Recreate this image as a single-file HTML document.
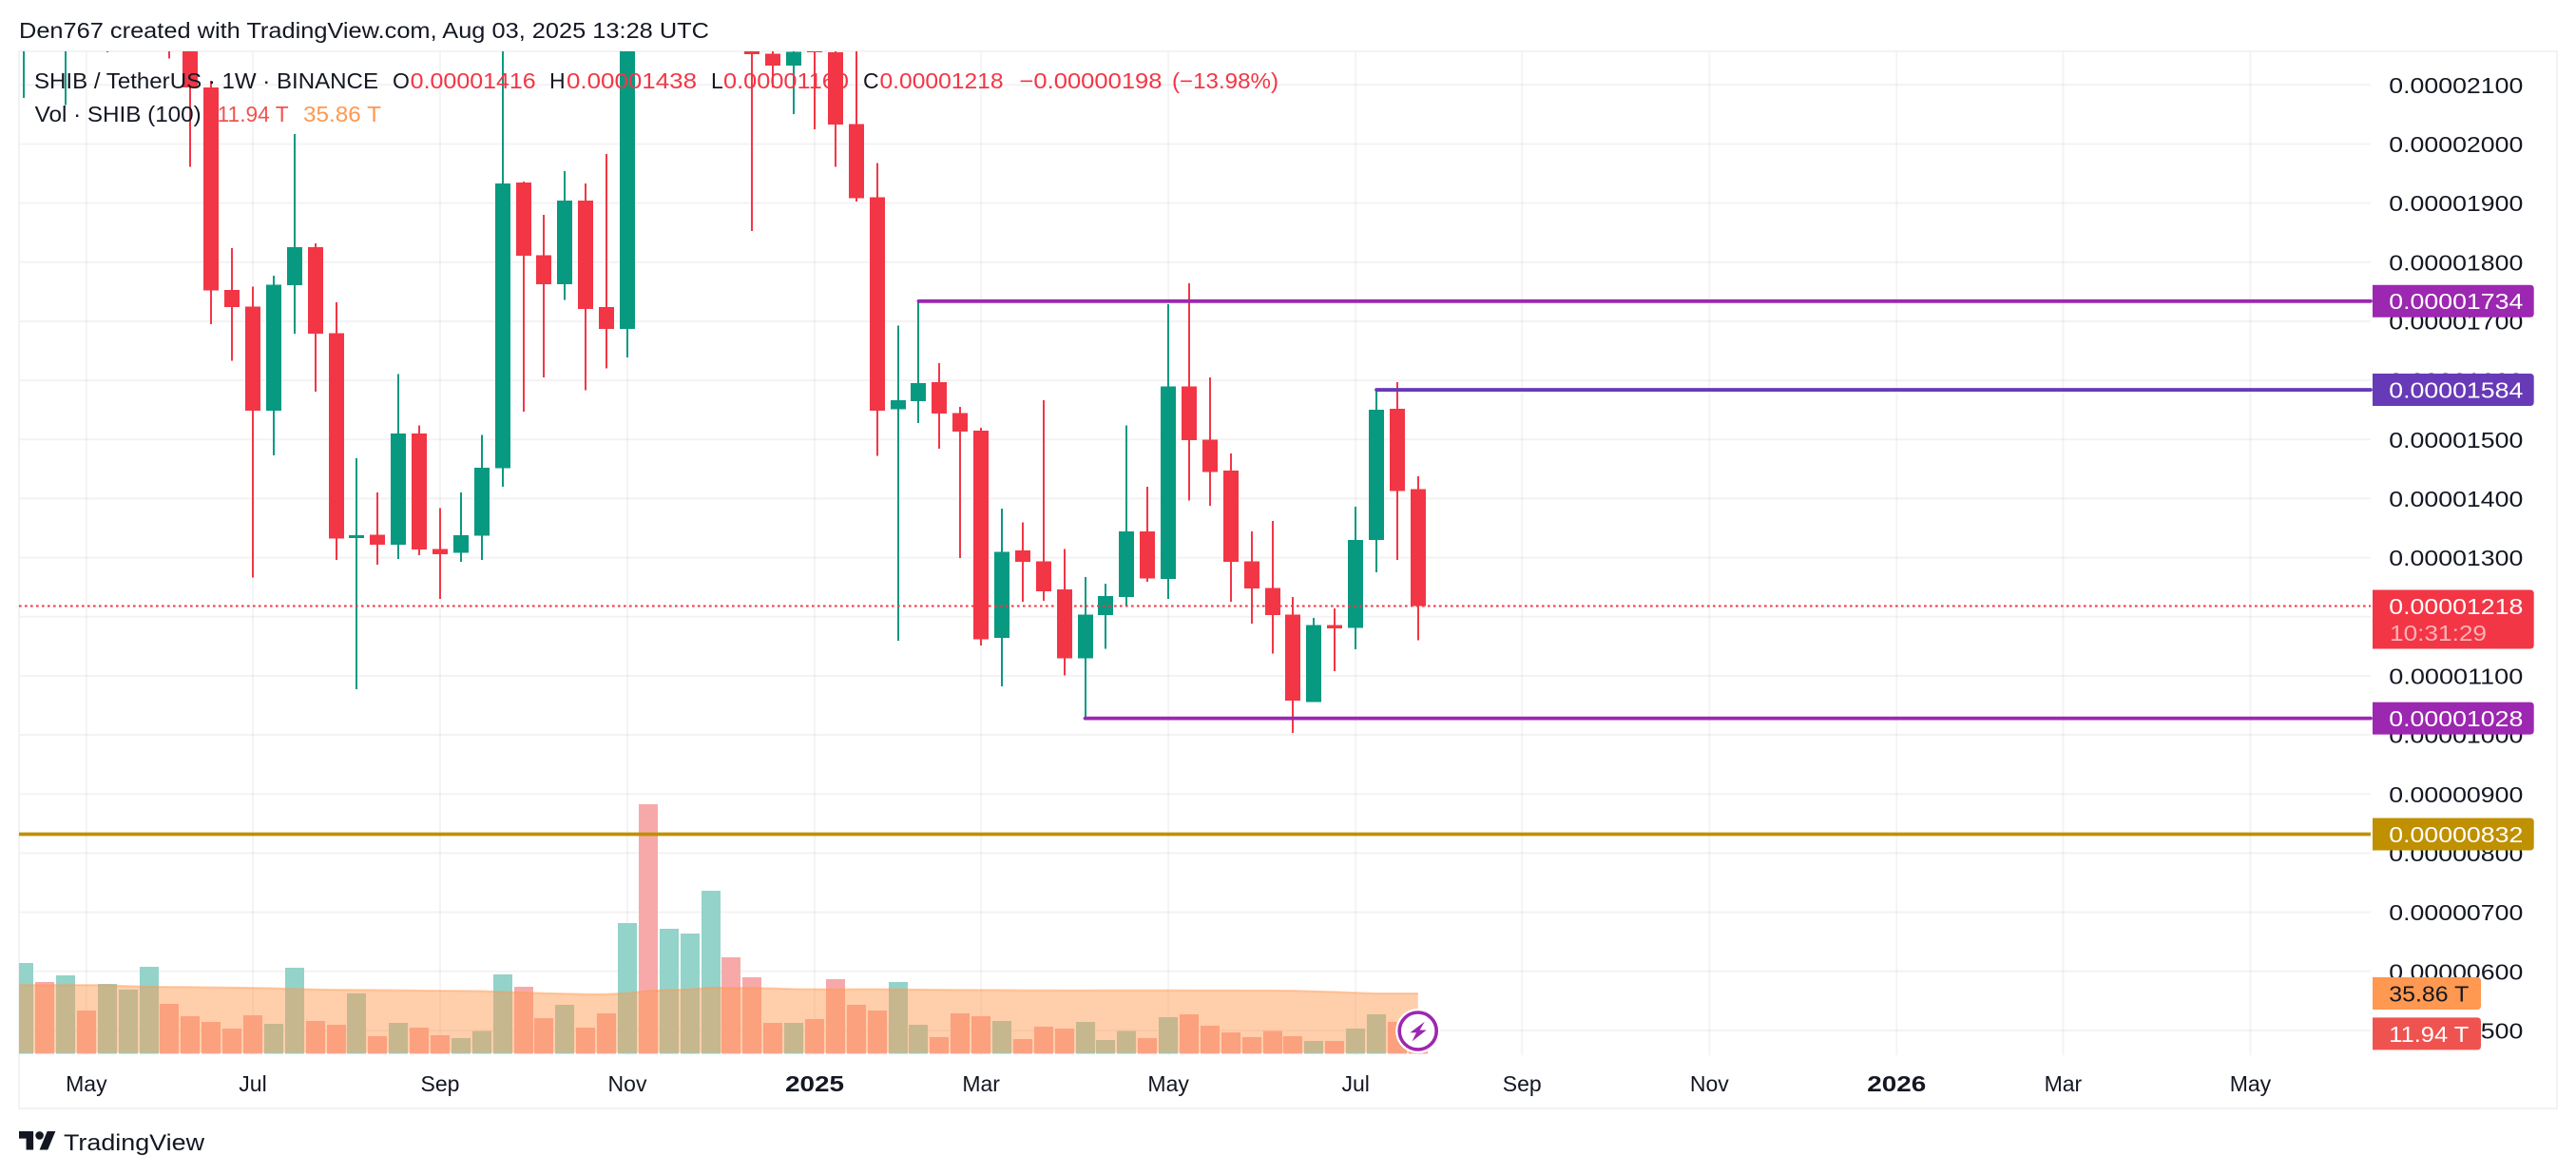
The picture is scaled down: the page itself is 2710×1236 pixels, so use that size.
<!DOCTYPE html>
<html lang="en">
<head>
<meta charset="utf-8">
<title>SHIB / TetherUS 1W chart</title>
<style>
html,body{margin:0;padding:0;background:#fff;width:2710px;height:1236px;overflow:hidden}
svg{display:block;font-family:"Liberation Sans",sans-serif}
</style>
</head>
<body>
<svg id="chart" xmlns="http://www.w3.org/2000/svg" width="2710" height="1236" viewBox="0 0 2710 1236">
  <defs>
    <clipPath id="pane-clip"><rect x="20" y="54" width="2474" height="1112"/></clipPath>
  </defs>
  <rect width="2710" height="1236" fill="#ffffff"/>
  <text x="20" y="40" font-size="23" fill="#131722" textLength="726" lengthAdjust="spacingAndGlyphs">Den767 created with TradingView.com, Aug 03, 2025 13:28 UTC</text>

  <g id="grid-layer"></g>
  <rect x="20" y="54" width="2670" height="1112" fill="none" stroke="#f2f2f3" stroke-width="2"/>
  <g id="volume-layer" clip-path="url(#pane-clip)"></g>
  <g id="candle-layer" clip-path="url(#pane-clip)"></g>
  <g id="price-line-layer"></g>
  <g id="level-layer"></g>
  <g id="axis-layer"></g>
  <g id="tag-layer"></g>

  <g font-size="23">
    <text x="36" y="93" fill="#131722" textLength="362" lengthAdjust="spacingAndGlyphs">SHIB / TetherUS · 1W · BINANCE</text>
    <text x="413" y="93" fill="#131722">O</text>
    <text x="431.7" y="93" fill="#f23645" textLength="132" lengthAdjust="spacingAndGlyphs">0.00001416</text>
    <text x="578" y="93" fill="#131722">H</text>
    <text x="596" y="93" fill="#f23645" textLength="137" lengthAdjust="spacingAndGlyphs">0.00001438</text>
    <text x="748" y="93" fill="#131722">L</text>
    <text x="761" y="93" fill="#f23645" textLength="132" lengthAdjust="spacingAndGlyphs">0.00001160</text>
    <text x="908" y="93" fill="#131722">C</text>
    <text x="925.5" y="93" fill="#f23645" textLength="130" lengthAdjust="spacingAndGlyphs">0.00001218</text>
    <text x="1072.5" y="93" fill="#f23645" textLength="150" lengthAdjust="spacingAndGlyphs">−0.00000198</text>
    <text x="1233" y="93" fill="#f23645" textLength="112" lengthAdjust="spacingAndGlyphs">(−13.98%)</text>
    <text x="36.7" y="128" fill="#131722" textLength="175" lengthAdjust="spacingAndGlyphs">Vol · SHIB (100)</text>
    <text x="228.6" y="128" fill="#ef5350" textLength="75" lengthAdjust="spacingAndGlyphs">11.94 T</text>
    <text x="319" y="128" fill="#ff9850" textLength="82" lengthAdjust="spacingAndGlyphs">35.86 T</text>
  </g>

  <g transform="translate(1491.7,1084.5)">
    <circle r="19.5" fill="#ffffff" stroke="#ffffff" stroke-width="8"/>
    <circle r="19.5" fill="#ffffff" stroke="#9c27b0" stroke-width="3.6"/>
    <polygon points="7,-9.7 -8.3,1.7 -1.7,1.7 -6.3,11 9,-1 2,-1" fill="#9c27b0"/>
  </g>

  <g>
    <path transform="translate(20,1185.7) scale(1.08)" d="M14 22H7V11H0V4h14v18zM28 22h-8l7.5-18h8L28 22z" fill="#131722"/>
    <circle cx="41.6" cy="1194.4" r="4.3" fill="#131722"/>
    <text x="67" y="1210" font-size="24" fill="#131722" textLength="148" lengthAdjust="spacingAndGlyphs">TradingView</text>
  </g>
</svg>

<script>
const candleOpen = [2400,2700,2350,2500,2300,2420,2700,2850,2450,2096,1753,1725,1549,1761,1825,1680,1333,1339,1322,1510,1315,1308,1337,1451,1935,1812,1763,1904,1724,1687,2400,2300,2700,3100,3300,2950,2153,2133,2250,2155,2034,1910,1551,1565,1597,1545,1515,1164,1312,1294,1246,1130,1203,1233,1344,1264,1590,1500,1447,1294,1249,1204,1056,1186,1181,1330,1552,1416];
const candleHigh = [2850,2900,2700,2650,2450,2800,3000,2900,2600,2107,1824,1759,1777,2017,1832,1732,1468,1410,1611,1524,1384,1410,1508,2250,1936,1880,1954,1933,1983,2450,2650,2800,3300,3450,3400,3000,2400,2250,2300,2170,2250,1968,1693,1734,1629,1555,1520,1383,1360,1566,1315,1267,1256,1524,1420,1729,1764,1605,1476,1344,1362,1233,1198,1214,1386,1584,1597,1438];
const candleLow = [2078,2200,2066,2250,2155,2300,2550,2145,1961,1695,1633,1266,1473,1679,1581,1296,1077,1288,1298,1304,1230,1293,1296,1420,1547,1605,1736,1583,1620,1639,2200,2250,2600,2950,2800,1853,2096,2051,2025,1961,1903,1472,1159,1528,1484,1299,1151,1082,1225,1227,1101,1028,1146,1217,1259,1230,1397,1388,1225,1188,1138,1003,1056,1108,1145,1275,1296,1160];
const candleClose = [2700,2350,2500,2300,2420,2700,2850,2450,2096,1752,1724,1549,1762,1825,1679,1332,1338,1322,1510,1314,1306,1338,1452,1933,1811,1763,1904,1721,1687,2400,2300,2700,3100,3300,2950,2152,2133,2156,2155,2033,1908,1549,1566,1595,1544,1513,1162,1310,1293,1243,1130,1204,1235,1344,1265,1590,1499,1445,1293,1248,1203,1058,1186,1180,1330,1550,1413,1218];
const volumeValues = [53.9,42.6,46.5,25.6,41.4,38.0,51.6,29.6,22.2,18.8,14.9,22.8,17.7,51.0,19.4,17.1,35.8,10.4,18.3,15.4,10.9,9.2,13.7,47.1,39.7,21.1,29.0,15.4,23.9,77.6,148.2,74.2,71.4,96.8,57.3,45.4,18.3,18.3,20.5,44.3,29.0,25.6,42.6,17.1,9.8,23.9,22.2,19.4,8.7,16.0,14.9,18.8,8.1,13.7,9.2,21.7,23.4,16.6,12.6,9.8,13.7,10.4,7.5,7.5,14.9,23.4,18.8,11.94];
const volumeMA = [40.9,40.9,40.9,40.9,40.8,40.2,39.9,39.8,39.7,39.5,39.4,39.2,39.0,38.6,38.3,38.1,38.0,37.9,37.8,37.6,37.5,37.4,37.3,36.8,36.4,36.0,35.7,35.5,35.5,36.0,37.4,37.9,38.3,39.3,39.2,39.2,38.9,38.5,38.4,38.3,38.4,38.4,38.3,38.2,38.1,38.0,37.9,37.9,37.8,37.8,37.7,37.7,37.8,37.8,37.8,37.8,37.7,37.7,37.7,37.6,37.6,37.5,37.1,36.8,36.3,35.9,35.9,35.86];
const priceTickValues = [2100,2000,1900,1800,1700,1600,1500,1400,1300,1200,1100,1000,900,800,700,600,500];
const priceTickLabels = ["0.00002100","0.00002000","0.00001900","0.00001800","0.00001700","0.00001600","0.00001500","0.00001400","0.00001300","","0.00001100","0.00001000","0.00000900","0.00000800","0.00000700","0.00000600","0.00000500"];
const timeTickBars = [3,11,20,29,38,46,55,64,72,81,90,98,107];
const timeTickLabels = ["May","Jul","Sep","Nov","2025","Mar","May","Jul","Sep","Nov","2026","Mar","May"];
const levelPrices = [1734,1584,1028,832];
const levelLabels = ["0.00001734","0.00001584","0.00001028","0.00000832"];
const levelStartBars = [43,65,51,-1];
const lastPrice = [1218];
const lastPriceLabel = ["0.00001218"];
const lastPriceCountdown = ["10:31:29"];
const volumeTagValues = [35.86,11.94];
const volumeTagLabels = ["35.86 T","11.94 T"];

const NS = 'http://www.w3.org/2000/svg';
const levelColors = ['#9c27b0','#673ab7','#9c27b0','#bf9000'];
const UP = '#089981', DOWN = '#f23645';
const PANE_LEFT = 20, PANE_RIGHT = 2494, PANE_TOP = 54, BASE_Y = 1108.5;

function xBar(i){ return 25.2 + i * 21.89; }
function yPrice(p){ return 89.3 + (2100 - p) * 0.6216; }
function yVolume(v){ return BASE_Y - v * 1.77; }

function mk(tag, attrs, parent, text){
  const el = document.createElementNS(NS, tag);
  for (const k in attrs) el.setAttribute(k, attrs[k]);
  if (text !== undefined) el.textContent = text;
  parent.appendChild(el);
  return el;
}
function tagPath(x, y, w, h){
  const r = 4;
  return 'M'+x+' '+y+'H'+(x+w-r)+'Q'+(x+w)+' '+y+' '+(x+w)+' '+(y+r)+'V'+(y+h-r)+'Q'+(x+w)+' '+(y+h)+' '+(x+w-r)+' '+(y+h)+'H'+x+'Z';
}

const gridLayer = document.getElementById('grid-layer');
const volumeLayer = document.getElementById('volume-layer');
const candleLayer = document.getElementById('candle-layer');
const priceLineLayer = document.getElementById('price-line-layer');
const levelLayer = document.getElementById('level-layer');
const axisLayer = document.getElementById('axis-layer');
const tagLayer = document.getElementById('tag-layer');

/* grid + axis labels */
priceTickValues.forEach(function(p, i){
  const y = yPrice(p);
  const line = mk('line', {x1:PANE_LEFT, x2:PANE_RIGHT, y1:y, y2:y, stroke:'rgba(46,46,60,.06)', 'stroke-width':2}, gridLayer);
  
  
  if (priceTickLabels[i]) {
    const t = mk('text', {x:2513.3, y:y+8.6, 'font-size':23, fill:'#131722', textLength:141, lengthAdjust:'spacingAndGlyphs'}, axisLayer, priceTickLabels[i]);
    
    
  }
});
timeTickBars.forEach(function(b, i){
  const x = xBar(b);
  const line = mk('line', {x1:x, x2:x, y1:PANE_TOP, y2:1110, stroke:'rgba(46,46,60,.055)', 'stroke-width':2}, gridLayer);
  
  
  const bold = /^\d/.test(timeTickLabels[i]);
  const attrs = {x:x, y:1148, 'font-size':23, fill:'#131722', 'text-anchor':'middle', 'font-weight':bold?'700':'400'};
  if (bold) { attrs.textLength = 62; attrs.lengthAdjust = 'spacingAndGlyphs'; }
  const t = mk('text', attrs, axisLayer, timeTickLabels[i]);
  
  
});

/* volume bars */
volumeValues.forEach(function(v, i){
  const up = candleClose[i] >= candleOpen[i];
  const y = yVolume(v);
  const bar = mk('rect', {x:Math.round(xBar(i)-10), y:y, width:20, height:BASE_Y-y, fill:up?'#93d3c9':'#f7a9aa', 'shape-rendering':'crispEdges'}, volumeLayer);
  
  
});

/* volume moving-average area */
let maTop = '';
volumeMA.forEach(function(v, i){
  maTop += (i ? 'L' : 'M') + xBar(i).toFixed(1) + ' ' + yVolume(v).toFixed(1);
});
const firstMaY = yVolume(volumeMA[0]).toFixed(1);
const lastX = xBar(volumeMA.length - 1).toFixed(1);
const maArea = mk('path', {d:'M'+PANE_LEFT+' '+(BASE_Y-1)+'V'+firstMaY+'H'+xBar(0).toFixed(1)+maTop.replace(/^M/,'L')+'V'+(BASE_Y-1)+'Z', fill:'rgba(255,152,80,.48)'}, volumeLayer);


const maLine = mk('path', {d:'M'+PANE_LEFT+' '+firstMaY+'H'+xBar(0).toFixed(1)+maTop.replace(/^M/,'L'), fill:'none', stroke:'rgba(255,152,80,.45)', 'stroke-width':2}, volumeLayer);



/* candles */
candleOpen.forEach(function(o, i){
  const c = candleClose[i];
  const color = c >= o ? UP : DOWN;
  const cx = xBar(i);
  const wickTop = yPrice(candleHigh[i]);
  const wickBottom = yPrice(candleLow[i]);
  const wick = mk('rect', {x:Math.round(cx-1), y:wickTop, width:2, height:wickBottom-wickTop, fill:color, 'shape-rendering':'crispEdges'}, candleLayer);
  
  
  const bodyTop = yPrice(Math.max(o, c));
  const bodyBottom = yPrice(Math.min(o, c));
  const body = mk('rect', {x:Math.round(cx-8), y:bodyTop, width:16, height:Math.max(bodyBottom-bodyTop, 2), fill:color, 'shape-rendering':'crispEdges'}, candleLayer);
  
  
});

/* last-price line */
const lastY = yPrice(lastPrice[0]);
const lastLine = mk('line', {x1:PANE_LEFT, x2:PANE_RIGHT, y1:lastY, y2:lastY, stroke:DOWN, 'stroke-width':2, 'stroke-dasharray':'2.6 3.4'}, priceLineLayer);



/* horizontal levels + their tags */
levelPrices.forEach(function(p, i){
  const y = yPrice(p);
  const start = levelStartBars[i] < 0 ? PANE_LEFT : xBar(levelStartBars[i]);
  const line = mk('line', {x1:start, x2:PANE_RIGHT, y1:y, y2:y, stroke:levelColors[i], 'stroke-width':3.8, 'stroke-linecap':levelStartBars[i] < 0 ? 'butt' : 'round'}, levelLayer);
  
  
  const box = mk('path', {d:tagPath(2496, y-17, 169.7, 34), fill:levelColors[i]}, tagLayer);
  
  
  const t = mk('text', {x:2513.3, y:y+8.4, 'font-size':23, fill:'#ffffff', textLength:141, lengthAdjust:'spacingAndGlyphs'}, tagLayer, levelLabels[i]);
  
  
});

/* last-price tag */
const lastBox = mk('path', {d:tagPath(2496, lastY-17, 169.7, 62), fill:DOWN}, tagLayer);


const lastText = mk('text', {x:2513.3, y:lastY+8.4, 'font-size':23, fill:'#ffffff', textLength:141, lengthAdjust:'spacingAndGlyphs'}, tagLayer, lastPriceLabel[0]);


const countdown = mk('text', {x:2514, y:lastY+36.4, 'font-size':23, fill:'rgba(255,255,255,.62)', textLength:102, lengthAdjust:'spacingAndGlyphs'}, tagLayer, lastPriceCountdown[0]);



/* volume tags */
volumeTagValues.forEach(function(v, i){
  const y = yVolume(v);
  const box = mk('path', {d:tagPath(2496, y-17, 114, 34), fill:i === 0 ? '#ff9850' : '#ef5350'}, tagLayer);
  
  
  const t = mk('text', {x:2513.3, y:y+8.4, 'font-size':23, fill:i === 0 ? '#131722' : '#ffffff', textLength:84, lengthAdjust:'spacingAndGlyphs'}, tagLayer, volumeTagLabels[i]);
  
  
});
</script>
</body>
</html>
